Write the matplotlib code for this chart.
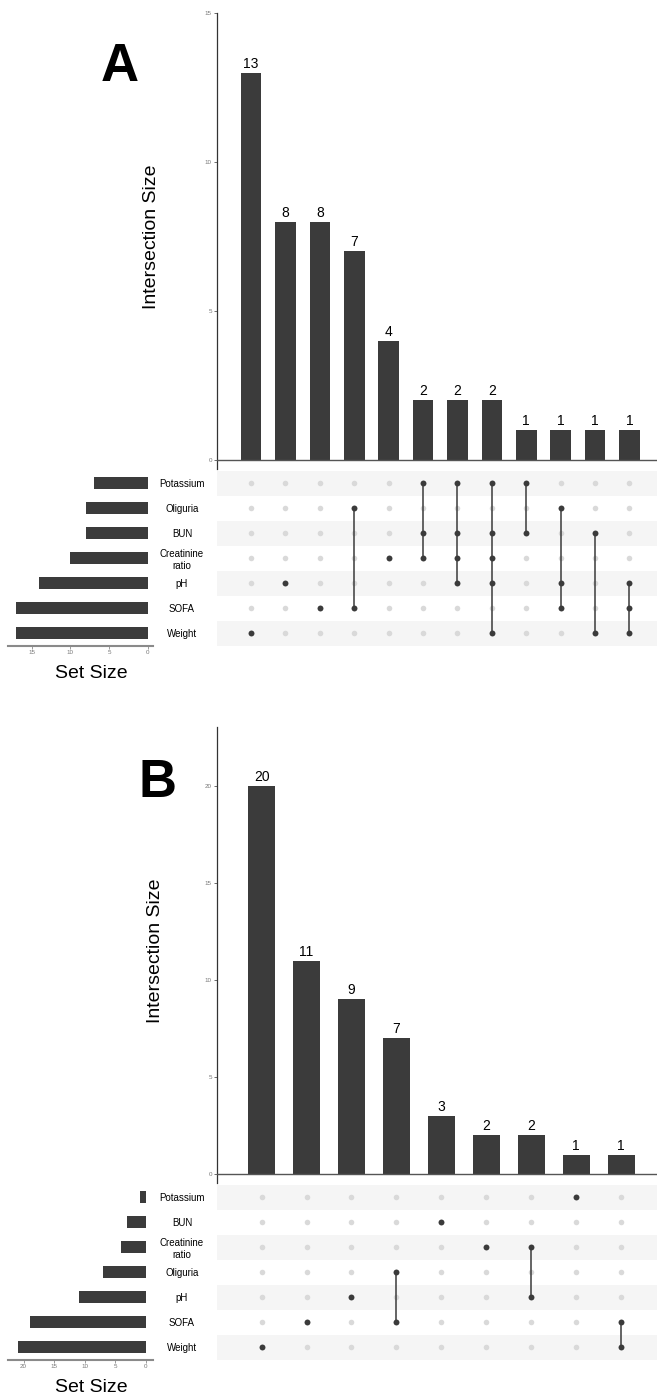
import numpy as np
import matplotlib
matplotlib.use("Agg")
import matplotlib.pyplot as plt

plt.rcParams['font.family'] = ['Liberation Sans', 'DejaVu Sans']

W, H = 657, 1400
DARK = '#3b3b3b'
LIGHT_DOT = '#d9d9d9'
SHADE = '#f5f5f5'

# ---- panel A data ----
sets_a = ["Potassium", "Oliguria", "BUN", "Creatinine\nratio", "pH", "SOFA", "Weight"]
set_sizes_a = [7, 8, 8, 10, 14, 17, 17]
combos_a = [
    ["Weight"],
    ["pH"],
    ["SOFA"],
    ["Oliguria", "SOFA"],
    ["Creatinine\nratio"],
    ["Potassium", "BUN", "Creatinine\nratio"],
    ["Potassium", "BUN", "Creatinine\nratio", "pH"],
    ["Potassium", "BUN", "Creatinine\nratio", "pH", "Weight"],
    ["Potassium", "BUN"],
    ["Oliguria", "pH", "SOFA"],
    ["BUN", "Weight"],
    ["pH", "SOFA", "Weight"],
]
counts_a = [13, 8, 8, 7, 4, 2, 2, 2, 1, 1, 1, 1]

# ---- panel B data ----
sets_b = ["Potassium", "BUN", "Creatinine\nratio", "Oliguria", "pH", "SOFA", "Weight"]
set_sizes_b = [1, 3, 4, 7, 11, 19, 21]
combos_b = [
    ["Weight"],
    ["SOFA"],
    ["pH"],
    ["Oliguria", "SOFA"],
    ["BUN"],
    ["Creatinine\nratio"],
    ["Creatinine\nratio", "pH"],
    ["Potassium"],
    ["SOFA", "Weight"],
]
counts_b = [20, 11, 9, 7, 3, 2, 2, 1, 1]


def rect(x0, y0, x1, y1):
    # pixel box (top-left origin) -> figure fraction
    return [x0 / W, 1 - y1 / H, (x1 - x0) / W, (y1 - y0) / H]


def draw_panel(fig, letter, letter_xy, sets, set_sizes, combos, counts,
               top, zero, ymax, yticks, xmax, set_xlim, ylab_x):
    n_sets = len(sets)
    n_cols = len(counts)
    xs = np.arange(1, n_cols + 1)

    # intersection size bars
    ax = fig.add_axes(rect(216.7, top, 657, zero + 9))
    ax.bar(xs, counts, width=0.6, color=DARK, zorder=2)
    for x, c in zip(xs, counts):
        ax.annotate(str(c), (x, c), xytext=(0, 1.5), textcoords='offset points',
                    ha='center', va='bottom', fontsize=10, color='black')
    ybot = -ymax * 9 / (zero - top)
    ax.set_ylim(ybot, ymax)
    ax.set_xlim(0, xmax)
    ax.axhline(0, color='#555555', lw=1.0, zorder=3)
    for s in ['top', 'right', 'bottom']:
        ax.spines[s].set_visible(False)
    ax.spines['left'].set_color('#333333')
    ax.spines['left'].set_linewidth(0.9)
    ax.set_xticks([])
    ax.set_yticks(yticks)
    ax.tick_params(axis='y', labelsize=4.5, labelcolor='#777777', color='#555555',
                   length=2, width=0.6, pad=1.5)
    fig.text(ylab_x / W, 1 - (top + zero) / 2 / H, "Intersection Size", rotation=90,
             ha='center', va='center', fontsize=14)

    # matrix
    mtop = zero + 10.5
    mx = fig.add_axes(rect(216.7, mtop, 657, mtop + 175))
    rows = {s: n_sets - 1 - i for i, s in enumerate(sets)}
    for i, s in enumerate(sets):
        if i % 2 == 0:
            mx.axhspan(rows[s] - 0.5, rows[s] + 0.5, color=SHADE, lw=0, zorder=0)
    for x, members in zip(xs, combos):
        mx.scatter([x] * n_sets, list(rows.values()), s=16, color=LIGHT_DOT,
                   lw=0, zorder=1)
        ys = [rows[m] for m in members]
        if len(ys) > 1:
            mx.plot([x, x], [min(ys), max(ys)], color=DARK, lw=1.1, zorder=2)
        mx.scatter([x] * len(ys), ys, s=18, color=DARK, lw=0, zorder=3)
    mx.set_xlim(0, xmax)
    mx.set_ylim(-0.5, n_sets - 0.5)
    for s in mx.spines.values():
        s.set_visible(False)
    mx.set_xticks([])
    mx.set_yticks([rows[s] for s in sets])
    mx.set_yticklabels(sets, fontsize=7, linespacing=1.3)
    mx.tick_params(axis='y', length=0, pad=25)
    for lab in mx.get_yticklabels():
        lab.set_ha('center')

    # set size bars
    sx = fig.add_axes(rect(8.4, mtop, 153, mtop + 175))
    sx.barh([rows[s] for s in sets], set_sizes, height=0.48, color=DARK)
    sx.set_xlim(*set_xlim)
    sx.set_ylim(-0.5, n_sets - 0.5)
    for s in ['top', 'right', 'left']:
        sx.spines[s].set_visible(False)
    sx.spines['bottom'].set_color('#8a8a8a')
    sx.spines['bottom'].set_linewidth(1.5)
    sx.set_yticks([])
    ticks = [t for t in range(0, int(set_xlim[0]) + 1, 5)]
    sx.set_xticks(ticks)
    sx.tick_params(axis='x', labelsize=4.5, labelcolor='#777777', color='#8a8a8a',
                   length=2, width=0.6, pad=1.5)
    fig.text(91 / W, 1 - (mtop + 203) / H, "Set Size", ha='center', va='center',
             fontsize=14)

    fig.text(letter_xy[0] / W, 1 - letter_xy[1] / H, letter, ha='center',
             va='baseline', fontsize=38, fontweight='bold')


fig = plt.figure(figsize=(W / 100, H / 100), dpi=100)

draw_panel(fig, "A", (120, 81), sets_a, set_sizes_a, combos_a, counts_a,
           top=13, zero=460, ymax=15, yticks=[0, 5, 10, 15], xmax=12.8,
           set_xlim=(18.0, -0.65), ylab_x=151)
draw_panel(fig, "B", (158, 797), sets_b, set_sizes_b, combos_b, counts_b,
           top=727, zero=1174, ymax=23.04, yticks=[0, 5, 10, 15, 20], xmax=9.8,
           set_xlim=(22.5, -1.2), ylab_x=155)

fig.savefig("out.png", dpi=100)
